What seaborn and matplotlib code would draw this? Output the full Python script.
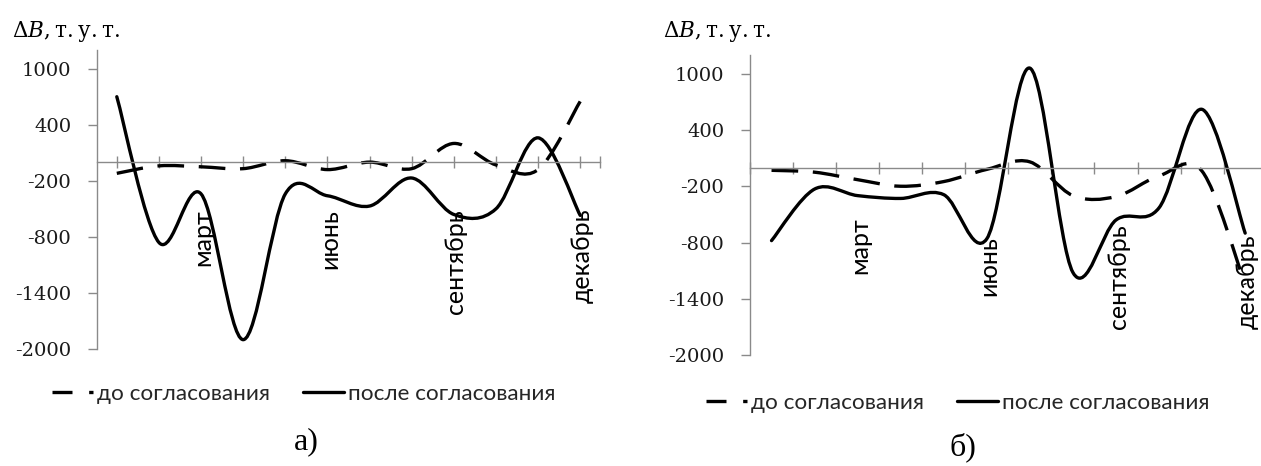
import numpy as np
import matplotlib
matplotlib.use("Agg")
import matplotlib.pyplot as plt
from matplotlib.path import Path
from matplotlib.patches import PathPatch
from matplotlib.lines import Line2D
import seaborn as sns

# ---- data -------------------------------------------------------------
months = ["январь", "февраль", "март", "апрель", "май", "июнь",
          "июль", "август", "сентябрь", "октябрь", "ноябрь", "декабрь"]
shown_months = ["март", "июнь", "сентябрь", "декабрь"]

# panel а)
before_a = [-120, -40, -50, -70, 15, -80, 0, -70, 200, -30, -80, 650]
after_a = [700, -860, -340, -1900, -340, -360, -470, -170, -560, -500, 260, -570]
# panel б)
before_b = [-30, -50, -130, -200, -150, -20, 60, -300, -310, -90, -40, -1250]
after_b = [-780, -230, -300, -330, -290, -760, 1060, -1120, -560, -430, 620, -700]

y_ticks = [-2000, -1400, -800, -200, 400, 1000]
series_labels = ["до согласования", "после согласования"]
panel_titles = ["а)", "б)"]
y_label = "$\\Delta B$,\u2009т.\u2009у.\u2009т."

# ---- style ------------------------------------------------------------
sns.set_theme(style="white")
plt.rcParams["font.family"] = ["Lato", "Noto Sans", "DejaVu Sans"]
plt.rcParams["mathtext.fontset"] = "dejavuserif"

W, H = 1261, 466
AXIS_GREY = "#8a8a8a"
LW = 2.4
DASH = (0, (8.0, 4.4))
LEGEND_DASH = (0, (6.0, 5.0))
SANS = ["Lato", "Noto Sans", "DejaVu Sans"]
TICK_FONT = "DejaVu Serif"


def smooth_path(xs, ys):
    """Bezier path through the points (Catmull-Rom style control points)."""
    p = np.column_stack([xs, ys]).astype(float)
    ext = np.vstack([p[0], p, p[-1]])
    verts = [p[0]]
    codes = [Path.MOVETO]
    for i in range(len(p) - 1):
        p0, p1, p2, p3 = ext[i], ext[i + 1], ext[i + 2], ext[i + 3]
        verts += [p1 + (p2 - p0) / 6.0, p2 - (p3 - p1) / 6.0, p2]
        codes += [Path.CURVE4] * 3
    return Path(verts, codes)


panels = [
    dict(before=before_a, after=after_a,
         rect=[97 / W, 1 - 349 / H, 503 / W, 299 / H],
         xlim=(-0.47, 11.47), xticks=list(range(12)) + [11.47],
         label_tops=[-500, -500, -500, -500],
         ylabel_px=(12, 31), legend_px=(52, 394), title_px=(306, 442)),
    dict(before=before_b, after=after_b,
         rect=[750 / W, 1 - 355 / H, 516.7 / W, 300 / H],
         xlim=(-0.5, 11.5), xticks=list(np.arange(-0.5, 12.0, 1.0)),
         label_tops=[-530, -730, -605, -710],
         ylabel_px=(663, 32), legend_px=(706, 403), title_px=(963, 447)),
]

fig = plt.figure(figsize=(W / 100, H / 100), dpi=100)
fig.patch.set_facecolor("white")

x = np.arange(len(months))
legend_fs = 16.2
month_fs = 18.0
fs_px = legend_fs * 100 / 72

for i, cfg in enumerate(panels):
    ax = fig.add_axes(cfg["rect"])
    ax.set_facecolor("white")
    ax.set_xlim(*cfg["xlim"])
    ax.set_ylim(-2000, 1200)

    ax.add_patch(PathPatch(smooth_path(x, cfg["before"]), fill=False,
                           edgecolor="black", lw=LW, linestyle=DASH,
                           capstyle="butt"))
    ax.add_patch(PathPatch(smooth_path(x, cfg["after"]), fill=False,
                           edgecolor="black", lw=LW, capstyle="round",
                           joinstyle="round"))

    sns.despine(ax=ax, top=True, right=True)
    ax.spines["bottom"].set_position(("data", 0))
    for side in ("left", "bottom"):
        ax.spines[side].set_color(AXIS_GREY)
        ax.spines[side].set_linewidth(1.0)

    ax.set_yticks(y_ticks)
    ax.set_yticklabels([str(v) for v in y_ticks], fontfamily=TICK_FONT,
                       fontsize=14, color="#1a1a1a")
    ax.tick_params(axis="y", direction="out", length=6.5, width=1.0,
                   color=AXIS_GREY, pad=12.0, left=True)
    ax.set_xticks(cfg["xticks"])
    ax.set_xticklabels([])
    ax.tick_params(axis="x", direction="inout", length=9, width=1.0,
                   color=AXIS_GREY, bottom=True)
    ax.grid(False)

    for name, top in zip(shown_months, cfg["label_tops"]):
        ax.text(months.index(name) + 0.05, top, name, rotation=90,
                ha="center", va="top", fontsize=month_fs, family=SANS,
                color="black")

    fig.text(cfg["ylabel_px"][0] / W, 1 - cfg["ylabel_px"][1] / H, y_label,
             ha="left", va="center", fontsize=15.5, family="DejaVu Serif",
             color="black")
    fig.text(cfg["title_px"][0] / W, 1 - cfg["title_px"][1] / H,
             panel_titles[i], ha="center", va="center", fontsize=23,
             family="Liberation Serif", color="black")

    handles = [Line2D([], [], color="black", lw=LW, linestyle=LEGEND_DASH,
                      dash_capstyle="butt"),
               Line2D([], [], color="black", lw=LW)]
    fig.legend(handles, series_labels, ncol=2, loc="center left",
               bbox_to_anchor=(cfg["legend_px"][0] / W,
                               1 - cfg["legend_px"][1] / H),
               bbox_transform=fig.transFigure, frameon=False,
               borderpad=0, borderaxespad=0,
               handlelength=41 / fs_px, handletextpad=4 / fs_px,
               columnspacing=33 / fs_px,
               prop={"family": SANS, "size": legend_fs})

fig.savefig("out.png", dpi=100, facecolor="white")
